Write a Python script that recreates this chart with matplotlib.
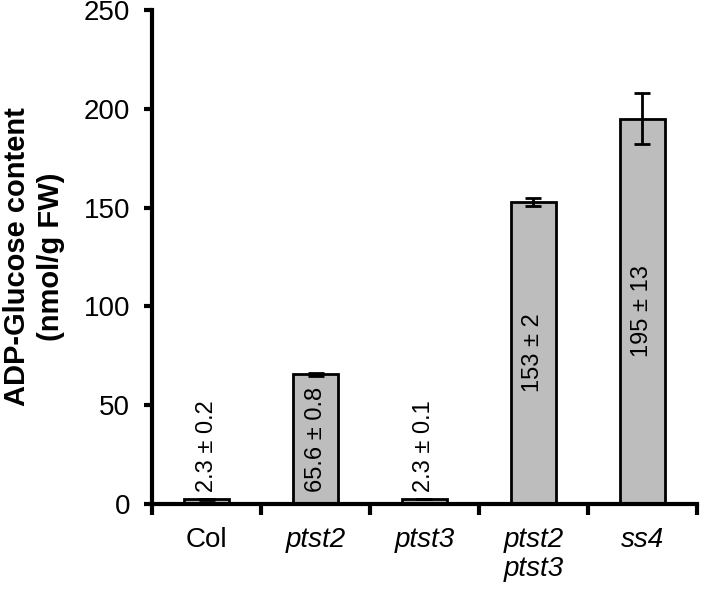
import matplotlib
matplotlib.use("Agg")
import matplotlib.pyplot as plt
import numpy as np

plt.rcParams['font.family'] = ['Liberation Sans', 'DejaVu Sans']

# data
genotypes = ["Col", "ptst2", "ptst3", "ptst2\nptst3", "ss4"]
italic = [False, True, True, True, True]
adp_glucose = [2.3, 65.6, 2.3, 153, 195]
errors = [0.2, 0.8, 0.1, 2, 13]
value_labels = ["2.3 ± 0.2", "65.6 ± 0.8", "2.3 ± 0.1", "153 ± 2", "195 ± 13"]

fig = plt.figure(figsize=(7.01, 5.92), dpi=100)
ax = fig.add_axes([0.217, 0.149, 0.777, 0.834])

x = np.arange(len(genotypes))
ax.bar(x, adp_glucose, width=0.41, color="#bdbdbd", edgecolor="black", linewidth=2, zorder=2)
ax.errorbar(x, adp_glucose, yerr=errors, fmt="none", ecolor="black", elinewidth=2,
            capsize=6, capthick=2, zorder=3)

# value labels, vertical
for xi, val, txt in zip(x, adp_glucose, value_labels):
    if val < 20:
        ax.text(xi, 6, txt, rotation=90, ha="center", va="bottom", fontsize=17, zorder=4)
    else:
        ax.text(xi, val / 2, txt, rotation=90, ha="center", va="center", fontsize=17, zorder=4)

ax.set_ylim(0, 250)
ax.set_xlim(-0.5, len(genotypes) - 0.5)
ax.set_yticks([0, 50, 100, 150, 200, 250])
ax.tick_params(axis="y", labelsize=20, width=3, length=6, direction="out", pad=10)

# ticks at category boundaries, labels at centers
ax.set_xticks(np.arange(len(genotypes) + 1) - 0.5)
ax.set_xticklabels([])
ax.tick_params(axis="x", which="major", width=3, length=8, direction="out")
ax.set_xticks(x, minor=True)
ax.set_xticklabels(genotypes, minor=True, fontsize=20)
ax.tick_params(axis="x", which="minor", length=0, pad=17)
for lbl, it in zip(ax.get_xticklabels(minor=True), italic):
    lbl.set_linespacing(1.15)
    if it:
        lbl.set_style("italic")
    lbl.set_va("top")

for s in ["top", "right"]:
    ax.spines[s].set_visible(False)
for s in ["left", "bottom"]:
    ax.spines[s].set_linewidth(3)

ax.set_ylabel("ADP-Glucose content\n(nmol/g FW)", fontsize=21, fontweight="bold", linespacing=1.29)
ax.yaxis.set_label_coords(-0.16, 0.5)

fig.savefig("out.png", dpi=100)
